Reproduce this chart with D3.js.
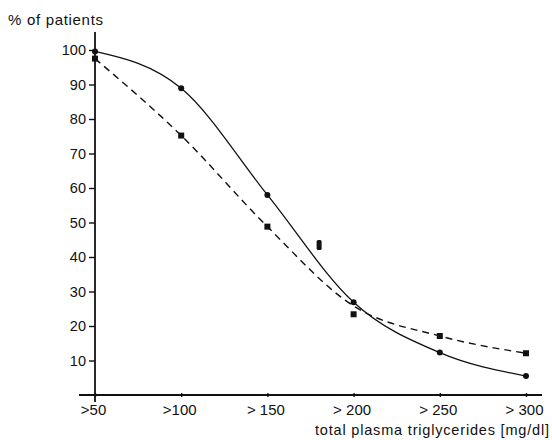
<!DOCTYPE html>
<html><head><meta charset="utf-8">
<script src="https://cdn.jsdelivr.net/npm/d3@7"></script>
<style>body{margin:0;background:#fff}svg{display:block}</style>
</head><body>
<svg id="c" width="552" height="440"></svg>
<script>
const categories = [50, 100, 150, 200, 250, 300];
const tickLabels = [">50", ">100", "> 150", "> 200", "> 250", "> 300"];
const yTicks = [10, 20, 30, 40, 50, 60, 70, 80, 90, 100];
const solidValues = [99.6, 88.9, 58, 26.9, 12.3, 5.5];
const dashedValues = [97.5, 75.2, 48.8, 23.4, 17.1, 12.1];
const dashedFit = [97.5, 75.2, 48.8, 25.8, 17.1, 12.1];
const extraPoint = [{x: 180, y: 43.5}];

const svg = d3.select("#c");
const x = d3.scaleLinear().domain([50, 300]).range([95, 526]);
const y = d3.scaleLinear().domain([0, 100]).range([395, 50]);
const ink = "#111";
const font = "Liberation Sans, Arial, sans-serif";

// axes
svg.append("line").attr("x1", 95).attr("x2", 95).attr("y1", 32).attr("y2", 402)
  .attr("stroke", ink).attr("stroke-width", 1.8);
svg.append("line").attr("x1", 79).attr("x2", 542).attr("y1", y(0)).attr("y2", y(0))
  .attr("stroke", ink).attr("stroke-width", 1.8);

const yAxis = d3.axisLeft(y).tickValues(yTicks).tickSize(6).tickPadding(3);
const gy = svg.append("g").attr("transform", "translate(95,0)").call(yAxis);
gy.select(".domain").remove();
gy.selectAll(".tick line").attr("stroke", ink).attr("stroke-width", 1.4);
gy.selectAll(".tick text").attr("font-family", font)
  .attr("font-size", 14.5).attr("fill", ink);

const xAxis = d3.axisBottom(x).tickValues(categories).tickSize(4)
  .tickFormat((d, i) => tickLabels[i]).tickPadding(7);
const gx = svg.append("g").attr("transform", `translate(0,${y(0) - 2})`).call(xAxis);
gx.select(".domain").remove();
gx.selectAll(".tick line").attr("stroke", ink).attr("stroke-width", 1.4);
gx.selectAll(".tick text").attr("font-family", font)
  .attr("font-size", 15).attr("fill", ink).attr("dx", -2);

// curves
const solidData = categories.map((c, i) => [c, solidValues[i]]);
const dashedFitData = categories.map((c, i) => [c, dashedFit[i]]);
const dashedData = categories.map((c, i) => [c, dashedValues[i]]);

svg.append("path").datum(solidData)
  .attr("d", d3.line().x(d => x(d[0])).y(d => y(d[1])).curve(d3.curveMonotoneX))
  .attr("fill", "none").attr("stroke", ink).attr("stroke-width", 1.3);
svg.append("path").datum(dashedFitData)
  .attr("d", d3.line().x(d => x(d[0])).y(d => y(d[1])).curve(d3.curveMonotoneX))
  .attr("fill", "none").attr("stroke", ink).attr("stroke-width", 1.4)
  .attr("stroke-dasharray", "7,5");

svg.selectAll("circle.s").data(solidData).join("circle").attr("class", "s")
  .attr("cx", d => x(d[0])).attr("cy", d => y(d[1])).attr("r", 3).attr("fill", ink);
svg.selectAll("rect.d").data(dashedData).join("rect").attr("class", "d")
  .attr("x", d => x(d[0]) - 3).attr("y", d => y(d[1]) - 3)
  .attr("width", 6).attr("height", 6).attr("fill", ink);
svg.selectAll("rect.e").data(extraPoint).join("rect").attr("class", "e")
  .attr("x", d => x(d.x) - 2.5).attr("y", d => y(d.y) - 5)
  .attr("width", 5).attr("height", 10).attr("rx", 1.5).attr("fill", ink);

// titles
svg.append("text").attr("x", 8).attr("y", 25)
  .attr("font-family", font).attr("font-size", 15)
  .attr("textLength", 95).attr("lengthAdjust", "spacing")
  .attr("fill", ink).text("% of patients");
svg.append("text").attr("x", 315).attr("y", 435)
  .attr("font-family", font).attr("font-size", 14.5)
  .attr("textLength", 234).attr("lengthAdjust", "spacing")
  .attr("fill", ink).text("total plasma triglycerides [mg/dl]");
</script>
</body></html>
